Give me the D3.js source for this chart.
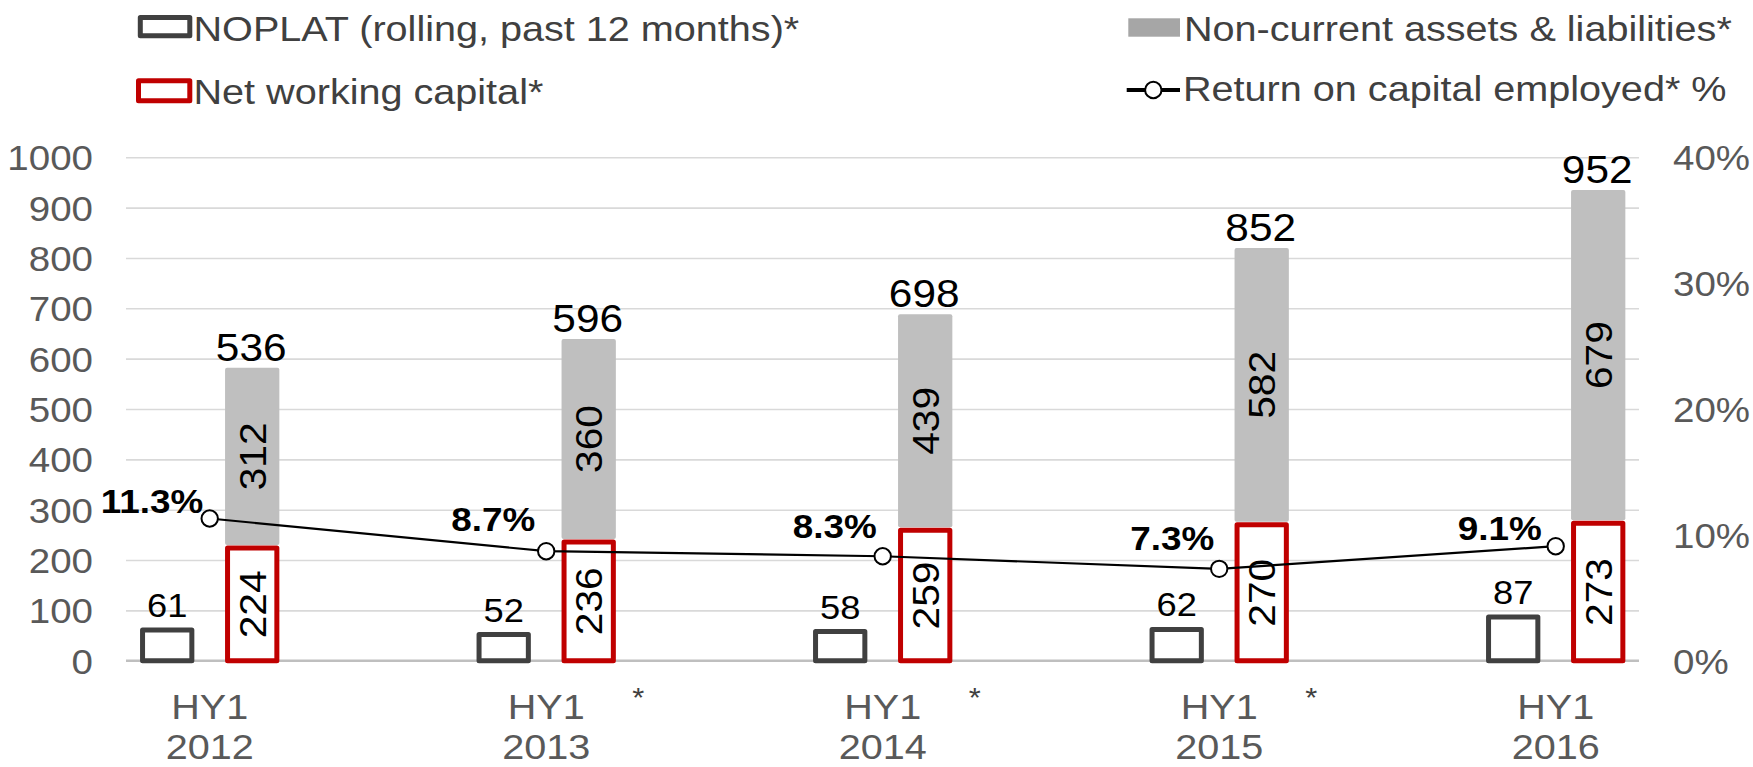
<!DOCTYPE html>
<html>
<head>
<meta charset="utf-8">
<script src="https://cdn.jsdelivr.net/npm/d3@7"></script>
<style>
  html, body { margin: 0; padding: 0; background: #ffffff; }
  svg { display: block; font-family: "Liberation Sans", Arial, sans-serif; }
</style>
</head>
<body>
<svg id="chart" width="1753" height="767"></svg>
<script>
// ---------------- data ----------------
const categories = ["HY1 2012", "HY1 2013", "HY1 2014", "HY1 2015", "HY1 2016"];
const xLabelTop = ["HY1", "HY1", "HY1", "HY1", "HY1"];
const xLabelBottom = ["2012", "2013", "2014", "2015", "2016"];
const xLabelStars = ["", "*", "*", "*", ""];
const noplat = [61, 52, 58, 62, 87];
const netWorkingCapital = [224, 236, 259, 270, 273];
const nonCurrentLabels = [312, 360, 439, 582, 679];
// drawn height of the grey segment
const nonCurrentBarHeights = [358, 403, 429, 550, 662];
const totals = [536, 596, 698, 852, 952];
const roce = [11.3, 8.7, 8.3, 7.3, 9.1];
const roceLabels = ["11.3%", "8.7%", "8.3%", "7.3%", "9.1%"];
const leftTicks = [0, 100, 200, 300, 400, 500, 600, 700, 800, 900, 1000];
const rightTicks = [0, 10, 20, 30, 40];
const legendItems = [
  "NOPLAT (rolling, past 12 months)*",
  "Net working capital*",
  "Non-current assets & liabilities*",
  "Return on capital employed* %"
];

// ---------------- layout ----------------
const W = 1753, H = 767;
const plotLeft = 126, plotRight = 1639;
const yBottom = 660.7, yTop = 157.3;
const barW = 49.3, barOffset = 42.5;
const SX = 1.1; // horizontal text stretch seen in the reference
const colGrid = "#D9D9D9", colAxisText = "#595959", colDark = "#404040";
const colRed = "#C00000", colGrey = "#BFBFBF";
// label placement offsets for the ROCE values (dx, dy from the point)
const roceLabelOffsets = [[-6.5, -5], [-11, -20], [-6, -18.7], [-5, -19.3], [-14, -6]];

const svg = d3.select("#chart");
svg.append("rect").attr("width", W).attr("height", H).attr("fill", "#fff");

function placeText(sel, fx, fy, rot) {
  sel.attr("transform", (d, i) => {
    const px = typeof fx === "function" ? fx(d, i) : fx;
    const py = typeof fy === "function" ? fy(d, i) : fy;
    return `translate(${px},${py})` + (rot ? ` rotate(${rot})` : "") + ` scale(${SX},1)`;
  });
  return sel;
}

const x = d3.scalePoint().domain(categories).range([209.7, 1555.7]);
const y = d3.scaleLinear().domain([0, 1000]).range([yBottom, yTop]);
const y2 = d3.scaleLinear().domain([0, 40]).range([yBottom, yTop]);

// gridlines
const grid = svg.append("g").attr("transform", `translate(${plotLeft},0)`)
  .call(d3.axisLeft(y).tickValues(leftTicks).tickSize(-(plotRight - plotLeft)).tickFormat(""));
grid.select(".domain").remove();
grid.selectAll(".tick line").attr("stroke", colGrid).attr("stroke-width", 1.6);

// left axis labels
const yAx = svg.append("g").attr("transform", `translate(${plotLeft},0)`)
  .call(d3.axisLeft(y).tickValues(leftTicks).tickSize(0).tickPadding(33).tickFormat(d3.format("d")));
yAx.select(".domain").remove();
yAx.selectAll("text").attr("font-size", 35).attr("fill", colAxisText)
  .attr("font-family", "Liberation Sans, Arial, sans-serif").attr("dy", "0.36em")
  .attr("x", 0).attr("transform", `translate(-33,0) scale(${SX},1)`);

// right axis labels
const y2Ax = svg.append("g").attr("transform", `translate(${plotRight},0)`)
  .call(d3.axisRight(y2).tickValues(rightTicks).tickSize(0).tickPadding(34).tickFormat(d => d + "%"));
y2Ax.select(".domain").remove();
y2Ax.selectAll("text").attr("font-size", 35).attr("fill", colAxisText)
  .attr("font-family", "Liberation Sans, Arial, sans-serif").attr("dy", "0.36em")
  .attr("x", 0).attr("transform", `translate(34,0) scale(${SX},1)`);

// baseline
svg.append("line").attr("x1", plotLeft).attr("x2", plotRight)
  .attr("y1", y(0)).attr("y2", y(0)).attr("stroke", "#BFBFBF").attr("stroke-width", 2.5);

// x labels
const xl = svg.append("g");
placeText(xl.append("g").selectAll("text").data(categories).join("text")
  .attr("text-anchor", "middle").attr("font-size", 36).attr("fill", colAxisText)
  .text((d, i) => xLabelTop[i]), d => x(d), 719);
placeText(xl.append("g").selectAll("text").data(categories).join("text")
  .attr("text-anchor", "middle").attr("font-size", 36).attr("fill", colAxisText)
  .text((d, i) => xLabelBottom[i]), d => x(d), 758.5);
placeText(xl.append("g").selectAll("text").data(categories.filter((d, i) => xLabelStars[i])).join("text")
  .attr("text-anchor", "middle").attr("font-size", 28).attr("fill", colDark)
  .text("*"), d => x(d) + 92, 707);

// grey bars (non-current assets & liabilities), stacked on net working capital
svg.append("g").selectAll("rect").data(categories).join("rect")
  .attr("x", (d) => x(d) + barOffset - barW / 2 - 2.5)
  .attr("width", barW + 5)
  .attr("y", (d, i) => y(netWorkingCapital[i] + nonCurrentBarHeights[i]))
  .attr("height", (d, i) => (y(netWorkingCapital[i]) - 3) - y(netWorkingCapital[i] + nonCurrentBarHeights[i]))
  .attr("rx", 2)
  .attr("fill", colGrey);

// NOPLAT bars
svg.append("g").selectAll("rect").data(categories).join("rect")
  .attr("x", d => x(d) - barOffset - barW / 2)
  .attr("width", barW)
  .attr("y", (d, i) => y(noplat[i]))
  .attr("height", (d, i) => y(0) - y(noplat[i]))
  .attr("fill", "#fff").attr("stroke", colDark).attr("stroke-width", 5)
  .attr("stroke-linejoin", "round");

// Net working capital bars
svg.append("g").selectAll("rect").data(categories).join("rect")
  .attr("x", d => x(d) + barOffset - barW / 2)
  .attr("width", barW)
  .attr("y", (d, i) => y(netWorkingCapital[i]))
  .attr("height", (d, i) => y(0) - y(netWorkingCapital[i]))
  .attr("fill", "#fff").attr("stroke", colRed).attr("stroke-width", 5)
  .attr("stroke-linejoin", "round");

// NOPLAT labels
placeText(svg.append("g").selectAll("text").data(categories).join("text")
  .attr("text-anchor", "middle").attr("font-size", 33).attr("fill", "#000")
  .text((d, i) => noplat[i]), d => x(d) - barOffset, (d, i) => y(noplat[i]) - 13);

// NWC labels (rotated)
placeText(svg.append("g").selectAll("text").data(categories).join("text")
  .attr("text-anchor", "middle").attr("dy", "0.36em").attr("font-size", 37).attr("fill", "#000")
  .text((d, i) => netWorkingCapital[i]),
  d => x(d) + barOffset, (d, i) => (y(0) + y(netWorkingCapital[i])) / 2, -90);

// Non-current labels (rotated)
placeText(svg.append("g").selectAll("text").data(categories).join("text")
  .attr("text-anchor", "middle").attr("dy", "0.36em").attr("font-size", 37).attr("fill", "#000")
  .text((d, i) => nonCurrentLabels[i]),
  d => x(d) + barOffset,
  (d, i) => (y(netWorkingCapital[i]) - 3 + y(netWorkingCapital[i] + nonCurrentBarHeights[i])) / 2, -90);

// totals
placeText(svg.append("g").selectAll("text").data(categories).join("text")
  .attr("text-anchor", "middle").attr("font-size", 38.5).attr("fill", "#000")
  .text((d, i) => totals[i]),
  d => x(d) + barOffset - 1, (d, i) => y(netWorkingCapital[i] + nonCurrentBarHeights[i]) - 7);

// ROCE line
const line = d3.line().x((d, i) => x(categories[i])).y(d => y2(d));
svg.append("path").datum(roce).attr("d", line)
  .attr("fill", "none").attr("stroke", "#000").attr("stroke-width", 2.2);
svg.append("g").selectAll("circle").data(roce).join("circle")
  .attr("cx", (d, i) => x(categories[i])).attr("cy", d => y2(d)).attr("r", 8.2)
  .attr("fill", "#fff").attr("stroke", "#000").attr("stroke-width", 2);
placeText(svg.append("g").selectAll("text").data(roce).join("text")
  .attr("text-anchor", "end").attr("font-size", 33.5).attr("font-weight", "bold").attr("fill", "#000")
  .text((d, i) => roceLabels[i]),
  (d, i) => x(categories[i]) + roceLabelOffsets[i][0], (d, i) => y2(d) + roceLabelOffsets[i][1]);

// ---------------- legend ----------------
const lg = svg.append("g");
lg.append("rect").attr("x", 140.3).attr("y", 17.5).attr("width", 49.5).attr("height", 18.3)
  .attr("fill", "#fff").attr("stroke", colDark).attr("stroke-width", 5).attr("stroke-linejoin", "round");
placeText(lg.append("text").attr("font-size", 36).attr("fill", colDark).text(legendItems[0]), 193.5, 40.5);

lg.append("rect").attr("x", 138.5).attr("y", 80.8).attr("width", 51.3).attr("height", 20)
  .attr("fill", "#fff").attr("stroke", colRed).attr("stroke-width", 5).attr("stroke-linejoin", "round");
placeText(lg.append("text").attr("font-size", 36).attr("fill", colDark).text(legendItems[1]), 193.5, 103.5);

lg.append("rect").attr("x", 1128.3).attr("y", 18.3).attr("width", 51.7).attr("height", 18.4).attr("fill", "#A6A6A6");
placeText(lg.append("text").attr("font-size", 36).attr("fill", colDark).text(legendItems[2]), 1184, 40.7);

lg.append("line").attr("x1", 1126.7).attr("x2", 1180).attr("y1", 90).attr("y2", 90)
  .attr("stroke", "#000").attr("stroke-width", 4);
lg.append("circle").attr("cx", 1153.3).attr("cy", 90).attr("r", 8.2)
  .attr("fill", "#fff").attr("stroke", "#000").attr("stroke-width", 2);
placeText(lg.append("text").attr("font-size", 36).attr("fill", colDark).text(legendItems[3]), 1183, 101);
</script>
</body>
</html>
